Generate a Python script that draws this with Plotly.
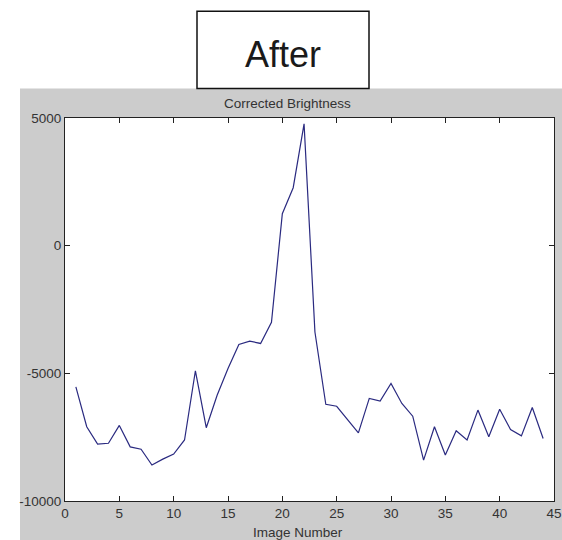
import plotly.graph_objects as go

# Corrected brightness per image
image_number = list(range(1, 45))
brightness = [
    -5530, -7090, -7770, -7740, -7040, -7880, -7970, -8590, -8360, -8160,
    -7610, -4900, -7130, -5860, -4810, -3870, -3740, -3830, -3000, 1250,
    2270, 4770, -3380, -6210, -6290, -6790, -7330, -5980, -6090, -5400,
    -6180, -6680, -8400, -7090, -8200, -7250, -7610, -6440, -7480, -6410,
    -7200, -7450, -6340, -7550,
]

x_ticks = [0, 5, 10, 15, 20, 25, 30, 35, 40, 45]
y_ticks = [-10000, -5000, 0, 5000]

W, H = 562, 540
L, R, T, B = 65, 554, 117.5, 501


def px(x):
    return (x - L) / (R - L)


def py(y):
    return (B - y) / (B - T)


font = dict(family="Arial, Liberation Sans, sans-serif", size=13.5, color="#333333")

fig = go.Figure()
fig.add_trace(go.Scatter(
    x=image_number, y=brightness, mode="lines",
    line=dict(color="#2a2a80", width=1.2),
    showlegend=False, hoverinfo="skip",
))

shapes = [
    # grey figure panel
    dict(type="rect", xref="paper", yref="paper", layer="below",
         x0=px(20), x1=px(570), y0=py(545), y1=py(88),
         fillcolor="#cccccc", line=dict(width=0)),
    # white axes area
    dict(type="rect", xref="paper", yref="paper", layer="below",
         x0=0, x1=1, y0=0, y1=1, fillcolor="white", line=dict(width=0)),
    # heading box
    dict(type="rect", xref="paper", yref="paper",
         x0=px(197), x1=px(369), y0=py(88), y1=py(10.5),
         fillcolor="white", line=dict(color="#111111", width=1.5)),
]

annotations = [
    dict(text="After", xref="paper", yref="paper", x=px(283), y=py(54),
         xanchor="center", yanchor="middle", showarrow=False,
         font=dict(family="Arial, Liberation Sans, sans-serif", size=36, color="#1a1a1a")),
    dict(text="Corrected Brightness", xref="paper", yref="paper", x=px(287), y=py(103),
         xanchor="center", yanchor="middle", showarrow=False, font=font),
    dict(text="Image Number", xref="paper", yref="paper", x=px(298), y=py(533),
         xanchor="center", yanchor="middle", showarrow=False, font=font),
]

axis_common = dict(
    showgrid=False, zeroline=False, showline=True, linecolor="#222222", linewidth=1,
    mirror="ticks", ticks="inside", ticklen=5, tickcolor="#222222", tickwidth=1,
    tickfont=font, automargin=False,
)

fig.update_layout(
    template="none",
    width=W, height=H,
    margin=dict(l=L, r=W - R, t=T, b=H - B, pad=0),
    paper_bgcolor="white", plot_bgcolor="white",
    shapes=shapes, annotations=annotations,
    xaxis=dict(range=[0, 45], tickvals=x_ticks, ticktext=[str(v) for v in x_ticks],
               **axis_common),
    yaxis=dict(range=[-10000, 5000], tickvals=y_ticks, ticktext=[str(v) for v in y_ticks],
               **axis_common),
)

fig.write_html("out.html")
